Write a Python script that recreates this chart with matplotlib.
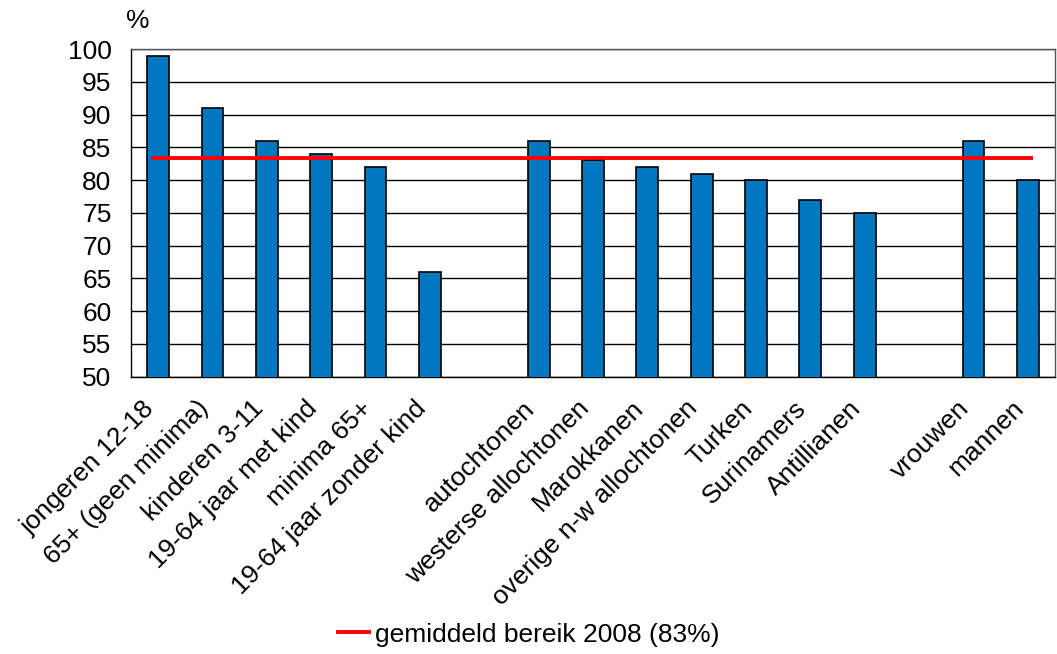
import numpy as np
import matplotlib.pyplot as plt
import matplotlib.transforms as mtransforms

plt.rcParams['font.family'] = ['Liberation Sans', 'DejaVu Sans']

# gegevens (bereik in %)
labels = ['jongeren 12-18', '65+ (geen minima)', 'kinderen 3-11', '19-64 jaar met kind',
          'minima 65+', '19-64 jaar zonder kind', '',
          'autochtonen', 'westerse allochtonen', 'Marokkanen', 'overige n-w allochtonen',
          'Turken', 'Surinamers', 'Antillianen', '',
          'vrouwen', 'mannen']
waarden = [99, 91, 86, 84, 82, 66, np.nan,
           86, 83, 82, 81, 80, 77, 75, np.nan,
           86, 80]
gemiddeld = 83.4
legend_label = 'gemiddeld bereik 2008 (83%)'

fig = plt.figure(figsize=(10.57, 6.54), dpi=100)
ax = fig.add_axes([0.124, 0.424, 0.874, 0.501])

x = np.arange(len(labels))
ax.bar(x, waarden, width=0.4, color='#0077C0', edgecolor='black', linewidth=1.2, zorder=3)
ax.plot([x[0] - 0.1, x[-1] + 0.06], [gemiddeld, gemiddeld], color='#FF0000',
        linewidth=2.8, zorder=4, label=legend_label)

ax.set_xlim(-0.5, len(labels) - 0.5)
ax.set_ylim(50, 100)
ax.set_yticks(np.arange(50, 101, 5))
ax.tick_params(axis='y', labelsize=19, length=0, pad=14)
ax.set_xticks(x)
ax.set_xticklabels(labels, rotation=45, ha='right', rotation_mode='anchor', fontsize=19)
ax.tick_params(axis='x', length=0, pad=14)
# labels iets naar links schuiven
offset = mtransforms.ScaledTranslation(-16 / 100, 0, fig.dpi_scale_trans)
for lab in ax.get_xticklabels():
    lab.set_transform(lab.get_transform() + offset)

ax.grid(axis='y', color='black', linewidth=1, zorder=0)
for s in ax.spines.values():
    s.set_color('#555555')
    s.set_linewidth(1)
ax.spines['left'].set_color('black')
ax.spines['bottom'].set_color('black')

ax.text(-0.006, 1.05, '%', transform=ax.transAxes, fontsize=19, ha='left', va='bottom')

fig.legend(loc='lower center', bbox_to_anchor=(0.5, -0.025), frameon=False, fontsize=19,
           handlelength=1.2, handletextpad=0.2)

fig.savefig('out.png', dpi=100)
